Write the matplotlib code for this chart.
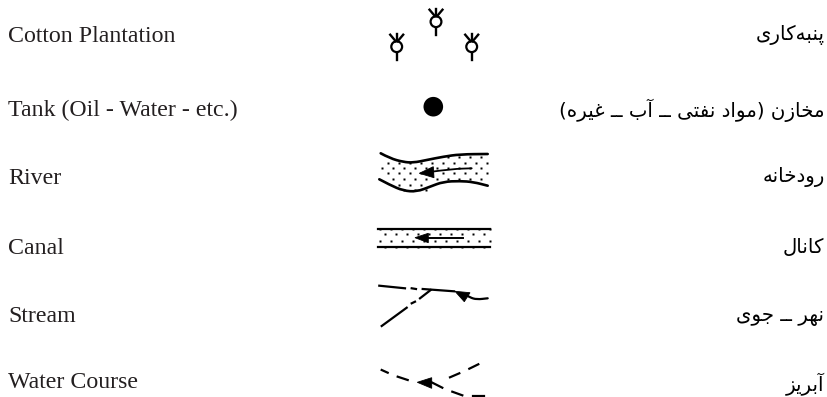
import matplotlib
matplotlib.use("Agg")
import matplotlib.pyplot as plt
from matplotlib.path import Path
from matplotlib.patches import PathPatch, Polygon, Circle

labels_en = ["Cotton Plantation", "Tank (Oil - Water - etc.)", "River", "Canal", "Stream", "Water Course"]
labels_fa = ["پنبه\u200cکاری", "مخازن (مواد نفتی ــ آب ــ غیره)", "رودخانه", "کانال", "نهر ــ جوی", "آبریز"]
baseline_en = [41.7, 116, 184.5, 254.5, 322, 388.3]
baseline_fa = [40, 116.5, 182, 253, 321.5, 391]

# cotton symbols and tank
cotton_x = [396.7, 436, 471.7]
cotton_y = [46.7, 21.7, 46.7]
tank = (433.3, 106.7)

# river
river_top_x = [380.7, 390, 403.3, 413.3, 426.7, 443.3, 460, 487.7]
river_top_y = [153.3, 158.3, 162, 162.7, 160, 156.7, 154.3, 154]
river_bot_x = [379.3, 390, 403.3, 416.7, 430, 443.3, 460, 473.3, 487.7]
river_bot_y = [179.3, 185, 190.7, 191.7, 186.7, 181.7, 181, 182, 185.7]
river_head = [(419.3, 173.3), (433.3, 166.7), (434, 177.7)]
river_shaft = ([431.7, 452, 471.7], [171.7, 169, 168.3])
grid_a = [381.7, 392.7, 403.7, 414.7, 425.7, 436.7, 447.7, 458.7, 469.7, 480.7]
grid_b = [387.7, 398.7, 409.7, 420.7, 431.7, 442.7, 453.7, 464.7, 475.7, 486.7]
river_dots = [
    (157.3, grid_a[6:]),
    (162.7, grid_b),
    (168.0, grid_a),
    (173.3, grid_b),
    (179.0, grid_a[1:]),
    (184.7, grid_b[1:4]),
    (189.7, grid_a[2:5]),
]

# canal
canal_x = [378, 490]
canal_y = [229.3, 247.3]
canal_head = [(415, 237.7), (428.3, 233.3), (428.3, 242.7)]
canal_shaft = ([428, 463.3], [237.7, 237.7])
canal_a = [385, 396, 407, 418, 429, 440, 451, 462, 473, 484]
canal_b = [380, 391, 402, 413, 424, 435, 446, 457, 468, 479, 490]
canal_dots = [(228.5, canal_b), (234.3, canal_a), (241, canal_b), (246.5, canal_a)]

# stream
stream_dashes = [
    ([379.3, 405], [285.7, 288.3]),
    ([411.7, 416], [288.3, 289]),
    ([422.7, 454], [289, 291.3]),
    ([381.7, 406.7], [326, 307.7]),
    ([411.7, 415], [303.3, 301.7]),
    ([420, 430.7], [298.3, 290]),
]
stream_head = [(455, 291.3), (470, 292.7), (464.3, 301.7)]
stream_tail = ([466, 470, 476.7, 487.7], [295, 297.5, 299.5, 298.3])

# water course
water_dashes = [
    ([381.7, 387.7], [370, 372.7]),
    ([397.7, 407.7], [376.7, 380]),
    ([431, 442.3], [382, 387.7]),
    ([450, 459.3], [377.3, 373.3]),
    ([469.3, 478.3], [368.7, 364.3]),
    ([452.3, 462.3], [391.7, 395.3]),
    ([473.3, 484], [396.3, 396.3]),
]
water_head = [(417.3, 382.3), (431.7, 377.7), (431.7, 388.3)]

INK = "#000000"
TXT = "#231f20"

# presentation forms: isolated, final, initial, medial (non joiners only have two)
FORMS = {
    "ا": "\uFE8D\uFE8E", "آ": "\uFE81\uFE82", "د": "\uFEA9\uFEAA", "ر": "\uFEAD\uFEAE",
    "ز": "\uFEAF\uFEB0", "و": "\uFEED\uFEEE",
    "ب": "\uFE8F\uFE90\uFE91\uFE92", "پ": "\uFB56\uFB57\uFB58\uFB59", "ت": "\uFE95\uFE96\uFE97\uFE98",
    "ج": "\uFE9D\uFE9E\uFE9F\uFEA0", "خ": "\uFEA5\uFEA6\uFEA7\uFEA8", "غ": "\uFECD\uFECE\uFECF\uFED0",
    "ف": "\uFED1\uFED2\uFED3\uFED4", "ک": "\uFB8E\uFB8F\uFB90\uFB91", "ل": "\uFEDD\uFEDE\uFEDF\uFEE0",
    "م": "\uFEE1\uFEE2\uFEE3\uFEE4", "ن": "\uFEE5\uFEE6\uFEE7\uFEE8", "ه": "\uFEE9\uFEEA\uFEEB\uFEEC",
    "ی": "\uFBFC\uFBFD\uFBFE\uFBFF",
}
MIRROR = {"(": ")", ")": "("}


def shape(text):
    # matplotlib has no arabic shaping, so pick the joined glyphs and put them in visual order
    out = []
    for i, ch in enumerate(text):
        if ch == "\u200c":
            continue
        if ch not in FORMS:
            out.append(MIRROR.get(ch, ch))
            continue
        prev = text[i - 1] if i > 0 else ""
        nxt = text[i + 1] if i + 1 < len(text) else ""
        joins_prev = prev in FORMS and len(FORMS[prev]) == 4
        joins_next = nxt in FORMS and len(FORMS[ch]) == 4
        f = FORMS[ch]
        if joins_prev and joins_next:
            out.append(f[3])
        elif joins_next:
            out.append(f[2])
        elif joins_prev:
            out.append(f[1])
        else:
            out.append(f[0])
    return "".join(reversed(out))


def curve(ax, xs, ys, lw):
    # quadratic segments through the midpoints
    verts = [(xs[0], ys[0])]
    codes = [Path.MOVETO]
    for i in range(1, len(xs) - 1):
        verts += [(xs[i], ys[i]), ((xs[i] + xs[i + 1]) / 2, (ys[i] + ys[i + 1]) / 2)]
        codes += [Path.CURVE3, Path.CURVE3]
    verts.append((xs[-1], ys[-1]))
    codes.append(Path.LINETO)
    ax.add_patch(PathPatch(Path(verts, codes), fill=False, ec=INK, lw=lw, capstyle="round"))


fig = plt.figure(figsize=(8.27, 3.97), dpi=100)
ax = fig.add_axes([0, 0, 1, 1])
ax.set_xlim(0, 827)
ax.set_ylim(397, 0)
ax.axis("off")

for t, y in zip(labels_en, baseline_en):
    ax.text(8, y, t, family="Liberation Serif", fontsize=17.2, color=TXT, va="baseline", ha="left")
for t, y in zip(labels_fa, baseline_fa):
    ax.text(824.5, y, shape(t), family="DejaVu Sans", fontsize=14.2, color=INK, va="baseline", ha="right")

for cx, cy in zip(cotton_x, cotton_y):
    ax.add_patch(Circle((cx, cy), 5.4, fc="white", ec=INK, lw=1.6))
    ax.plot([cx, cx], [cy + 6, cy + 13.3], color=INK, lw=1.7)
    ax.plot([cx, cx], [cy - 6, cy - 12.5], color=INK, lw=1.7)
    ax.plot([cx - 1, cx - 6.5], [cy - 5.5, cy - 12], color=INK, lw=1.7)
    ax.plot([cx + 1, cx + 6.5], [cy - 5.5, cy - 12], color=INK, lw=1.7)

ax.add_patch(Circle(tank, 9.8, fc="black", ec="none"))

for y, xs in river_dots + canal_dots:
    ax.plot(xs, [y] * len(xs), ls="none", marker="s", ms=1.9, mfc=INK, mec="none")

curve(ax, river_top_x, river_top_y, 1.9)
curve(ax, river_bot_x, river_bot_y, 1.9)
ax.add_patch(Polygon(river_head, fc=INK, ec=INK, lw=0.6))
curve(ax, river_shaft[0], river_shaft[1], 1.3)

for y in canal_y:
    ax.plot(canal_x, [y, y], color=INK, lw=1.6)
ax.add_patch(Polygon(canal_head, fc=INK, ec=INK, lw=0.6))
ax.plot(canal_shaft[0], canal_shaft[1], color=INK, lw=1.4)

for xs, ys in stream_dashes + water_dashes:
    ax.plot(xs, ys, color=INK, lw=1.6)
ax.add_patch(Polygon(stream_head, fc=INK, ec=INK, lw=0.6))
curve(ax, stream_tail[0], stream_tail[1], 1.6)
ax.add_patch(Polygon(water_head, fc=INK, ec=INK, lw=0.6))

fig.savefig("out.png", dpi=100)
